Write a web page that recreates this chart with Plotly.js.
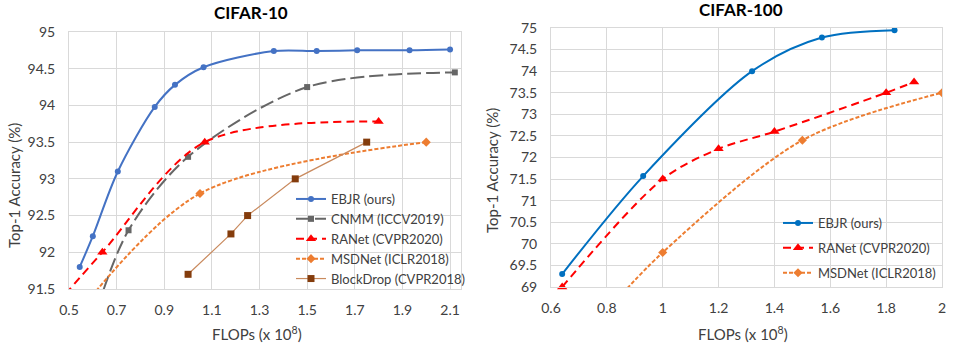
<!DOCTYPE html>
<html>
<head>
<meta charset="utf-8">
<script src="https://cdn.plot.ly/plotly-3.0.1.min.js"></script>
<style>html,body{margin:0;padding:0;background:#fff}#chart{width:956px;height:347px}</style>
</head>
<body>
<div id="chart"></div>
<script>
// ---------- CIFAR-10 data ----------
const c10_ebjr_x = [0.545, 0.6, 0.705, 0.86, 0.945, 1.065, 1.36, 1.54, 1.71, 1.93, 2.1];
const c10_ebjr_y = [91.8, 92.22, 93.1, 93.98, 94.28, 94.52, 94.74, 94.74, 94.75, 94.75, 94.76];
const c10_cnmm_x = [0.62, 0.75, 1.0, 1.5, 2.12];
const c10_cnmm_y = [91.25, 92.3, 93.3, 94.25, 94.45];
const c10_ranet_x = [0.45, 0.64, 1.07, 1.8];
const c10_ranet_y = [91.3, 92.0, 93.5, 93.78];
const c10_msd_x = [0.55, 1.05, 2.0];
const c10_msd_y = [91.22, 92.8, 93.5];
const c10_bd_x = [1.0, 1.18, 1.25, 1.45, 1.75];
const c10_bd_y = [91.7, 92.25, 92.5, 93.0, 93.5];
const c10_xticks = [0.5, 0.7, 0.9, 1.1, 1.3, 1.5, 1.7, 1.9, 2.1];
const c10_yticks = [91.5, 92, 92.5, 93, 93.5, 94, 94.5, 95];

// ---------- CIFAR-100 data ----------
const c100_ebjr_x = [0.64, 0.93, 1.32, 1.57, 1.83];
const c100_ebjr_y = [69.3, 71.57, 74.0, 74.78, 74.95];
const c100_ranet_x = [0.64, 1.0, 1.2, 1.4, 1.8, 1.9];
const c100_ranet_y = [69.0, 71.5, 72.2, 72.6, 73.5, 73.75];
const c100_msd_x = [0.8, 1.0, 1.5, 2.0];
const c100_msd_y = [68.45, 69.8, 72.4, 73.5];
const c100_xticks = [0.6, 0.8, 1, 1.2, 1.4, 1.6, 1.8, 2];
const c100_yticks = [69, 69.5, 70, 70.5, 71, 71.5, 72, 72.5, 73, 73.5, 74, 74.5, 75];

const legendNames = ["EBJR (ours)", "CNMM (ICCV2019)", "RANet (CVPR2020)", "MSDNet (ICLR2018)", "BlockDrop (CVPR2018)"];

const FONT = "Lato, 'Liberation Sans', Arial, sans-serif";
const TXT = "#404040";

function tr(x, y, name, color, dash, width, sym, size, axes, legend, extra) {
  return Object.assign({
    x: x, y: y, name: name, type: "scatter", mode: "lines+markers",
    xaxis: axes[0], yaxis: axes[1], legend: legend,
    line: {color: color, dash: dash, width: width, shape: "spline", smoothing: 0.9},
    marker: {symbol: sym, size: size, color: color}
  }, extra || {});
}

const data = [
  tr(c10_ebjr_x, c10_ebjr_y, legendNames[0], "#4472C4", "solid", 2, "circle", 6, ["x","y"], "legend"),
  tr(c10_cnmm_x, c10_cnmm_y, legendNames[1], "#666666", "14px,5px", 2, "square", 6, ["x","y"], "legend"),
  tr(c10_ranet_x, c10_ranet_y, legendNames[2], "#FF0000", "8px,5px", 2, "triangle-up", 9, ["x","y"], "legend"),
  tr(c10_msd_x, c10_msd_y, legendNames[3], "#ED7D31", "4px,2px", 2, "diamond", 7, ["x","y"], "legend"),
  tr(c10_bd_x, c10_bd_y, legendNames[4], "#C98A5E", "solid", 1.2, "square", 7, ["x","y"], "legend",
     {line: {color: "#C98A5E", width: 1.2, shape: "linear"}, marker: {symbol: "square", size: 7, color: "#843C0C"}}),
  tr(c100_ebjr_x, c100_ebjr_y, legendNames[0], "#0070C0", "solid", 2, "circle", 6, ["x2","y2"], "legend2", {legendgroup: "a"}),
  tr(c100_ranet_x, c100_ranet_y, legendNames[2], "#FF0000", "8px,5px", 2, "triangle-up", 9, ["x2","y2"], "legend2", {cliponaxis: false, legendgroup: "b"}),
  tr(c100_msd_x, c100_msd_y, legendNames[3], "#ED7D31", "4px,2px", 2, "diamond", 7, ["x2","y2"], "legend2", {legendgroup: "c"})
];

const gridc = "#D9D9D9";
function xax(domain, range, ticks, anchor) {
  return {domain: domain, range: range, anchor: anchor, tickvals: ticks, ticktext: ticks.map(String),
    showgrid: true, gridcolor: gridc, gridwidth: 1, zeroline: false, showline: true, linecolor: gridc, mirror: true,
    ticks: "", ticklabelstandoff: 8, tickfont: {family: FONT, size: 14, color: TXT}, fixedrange: true};
}
function yax(domain, range, ticks, anchor) {
  return {domain: domain, range: range, anchor: anchor, tickvals: ticks, ticktext: ticks.map(String),
    showgrid: true, gridcolor: gridc, gridwidth: 1, zeroline: false, showline: true, linecolor: gridc, mirror: true,
    ticks: "", ticklabelstandoff: 10, tickfont: {family: FONT, size: 14, color: TXT}, fixedrange: true};
}
const W = 956, H = 347;
const px = v => v / W, py = v => (H - v) / H;

const layout = {
  width: W, height: H, margin: {l: 0, r: 0, t: 0, b: 0},
  paper_bgcolor: "#fff", plot_bgcolor: "#fff",
  font: {family: FONT, size: 14, color: TXT},
  xaxis: xax([px(69), px(461)], [0.5, 2.146], c10_xticks, "y"),
  yaxis: yax([py(289), py(32)], [91.5, 95], c10_yticks, "x"),
  xaxis2: xax([px(551), px(942)], [0.6, 2.0], c100_xticks, "y2"),
  yaxis2: yax([py(287), py(28)], [69, 75], c100_yticks, "x2"),
  legend: {x: px(291), y: py(184), xanchor: "left", yanchor: "top", bgcolor: "rgba(0,0,0,0)",
    font: {family: FONT, size: 13, color: TXT}, traceorder: "normal", itemwidth: 30},
  legend2: {x: px(778), y: py(208), xanchor: "left", yanchor: "top", bgcolor: "rgba(0,0,0,0)",
    font: {family: FONT, size: 13, color: TXT}, traceorder: "grouped", tracegroupgap: 5, itemwidth: 30},
  annotations: [
    {text: "<b>CIFAR-10</b>", x: px(251), y: py(12), xref: "paper", yref: "paper", showarrow: false,
     font: {family: FONT, size: 17, color: "#000"}, xanchor: "center", yanchor: "middle"},
    {text: "<b>CIFAR-100</b>", x: px(741), y: py(10), xref: "paper", yref: "paper", showarrow: false,
     font: {family: FONT, size: 17, color: "#000"}, xanchor: "center", yanchor: "middle"},
    {text: "Top-1 Accuracy (%)", x: px(14), y: py(186), xref: "paper", yref: "paper", showarrow: false, textangle: -90,
     font: {family: FONT, size: 15, color: TXT}, xanchor: "center", yanchor: "middle"},
    {text: "Top-1 Accuracy (%)", x: px(492), y: py(170), xref: "paper", yref: "paper", showarrow: false, textangle: -90,
     font: {family: FONT, size: 15, color: TXT}, xanchor: "center", yanchor: "middle"},
    {text: "FLOPs (x 10<sup>8</sup>)", x: px(257), y: py(333), xref: "paper", yref: "paper", showarrow: false,
     font: {family: FONT, size: 15, color: TXT}, xanchor: "center", yanchor: "middle"},
    {text: "FLOPs (x 10<sup>8</sup>)", x: px(743), y: py(333), xref: "paper", yref: "paper", showarrow: false,
     font: {family: FONT, size: 15, color: TXT}, xanchor: "center", yanchor: "middle"}
  ]
};

Plotly.newPlot("chart", data, layout, {staticPlot: true, displayModeBar: false});
</script>
</body>
</html>
